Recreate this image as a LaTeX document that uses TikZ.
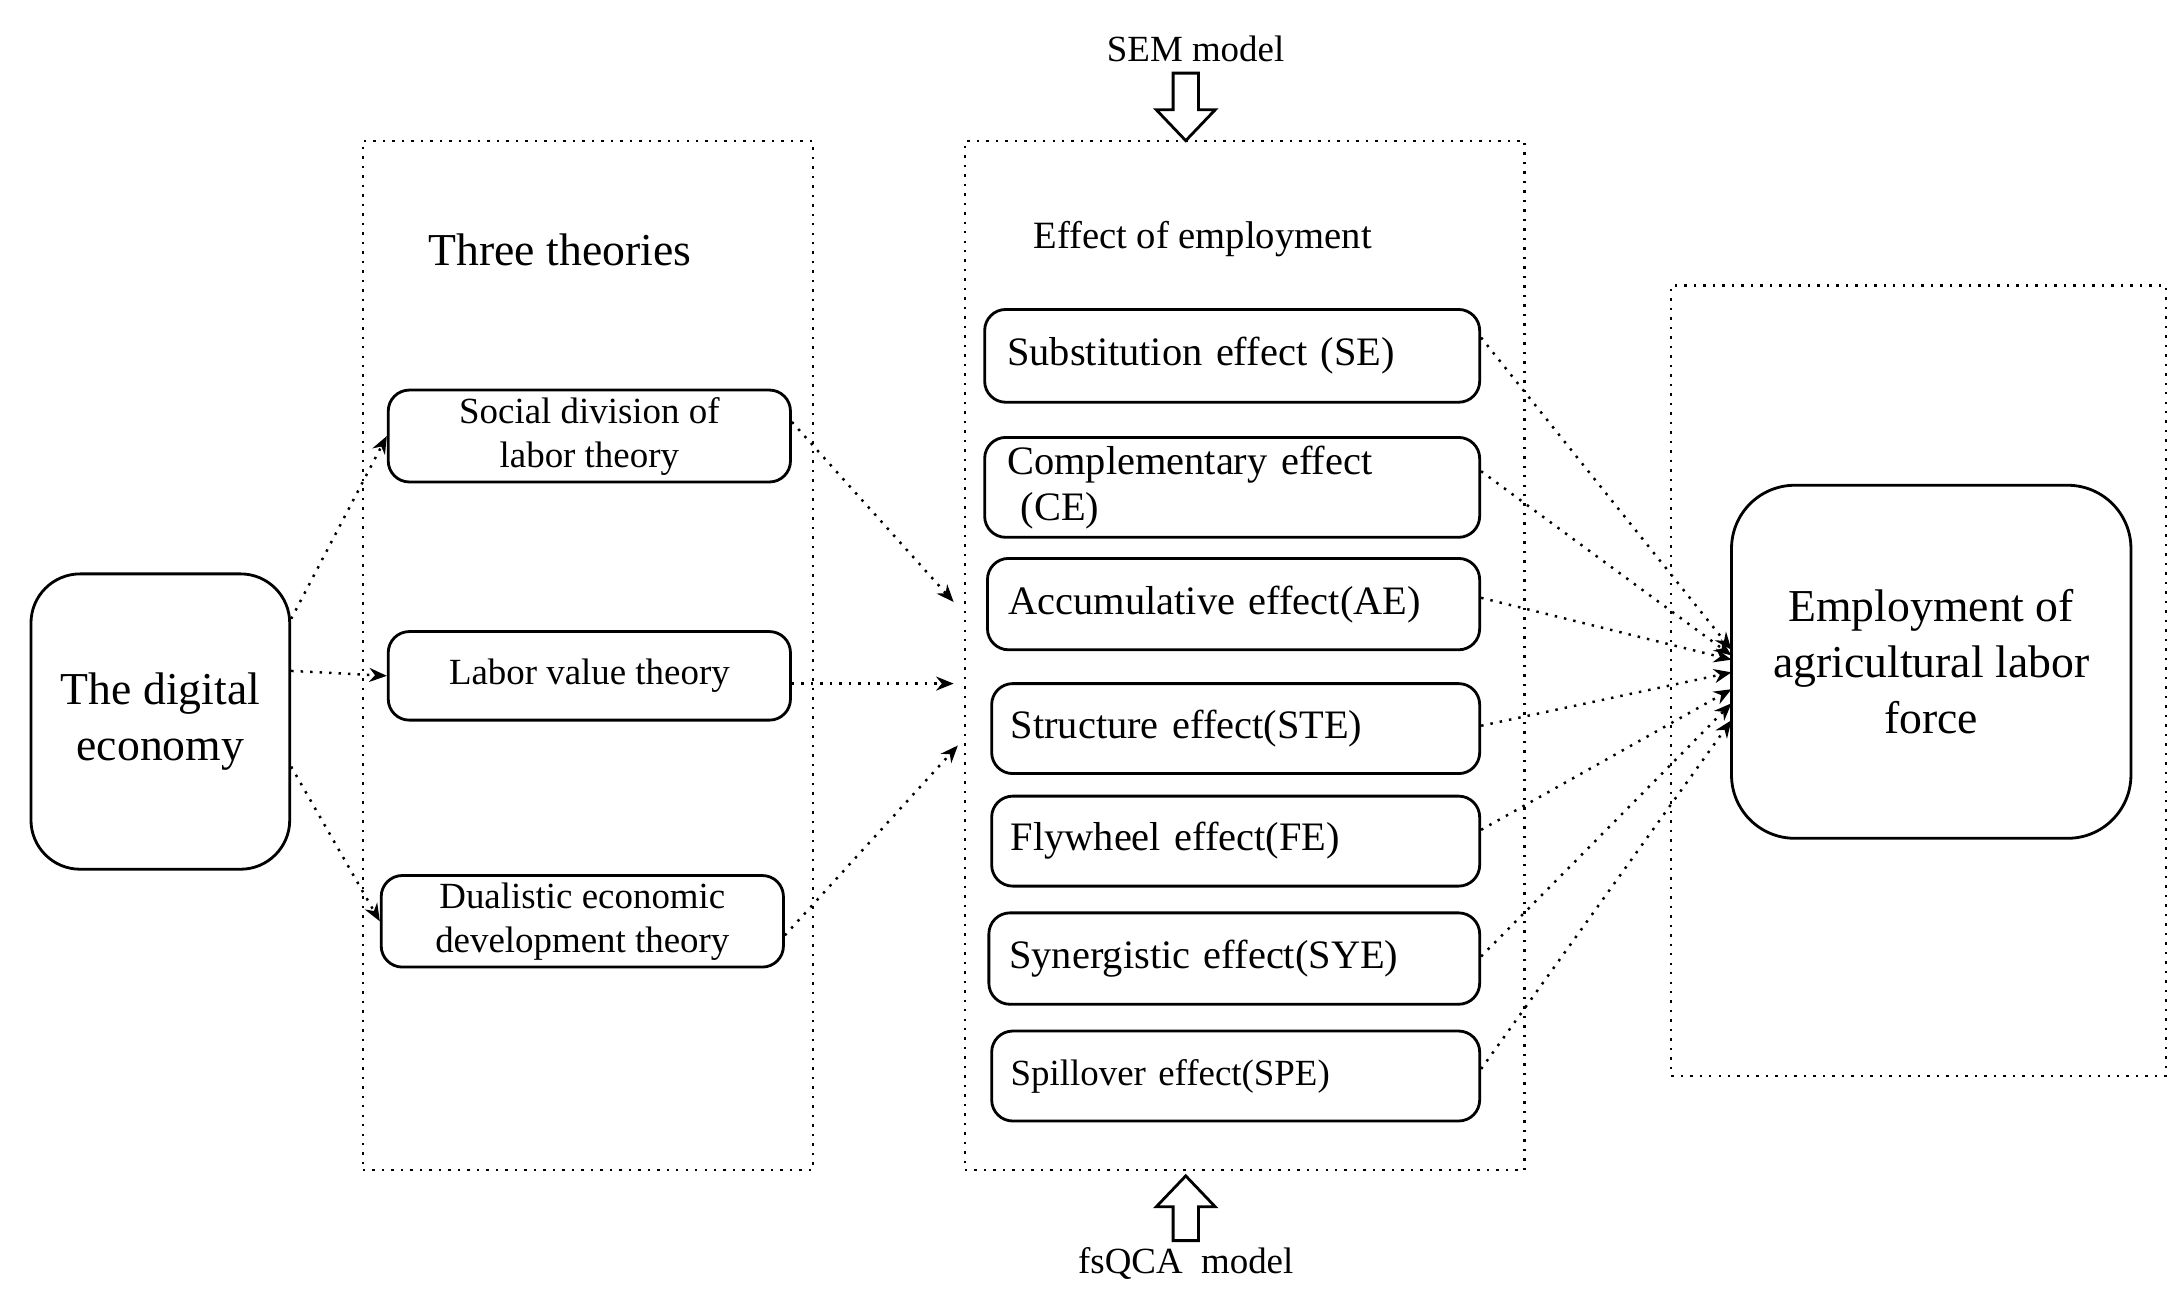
\documentclass[tikz,border=0pt]{standalone}
\usepackage{fontspec}
\setmainfont{Liberation Serif}
\usetikzlibrary{arrows.meta}
\begin{document}
\begin{tikzpicture}[x=0.014066cm,y=-0.014066cm,
 box/.style={draw,rounded corners=6pt,line width=0.8pt,align=center,inner sep=2pt},
 eff/.style={box,font=\fontsize{11.5}{13}\selectfont,align=left,text width=4.5cm},
 th/.style={box,font=\fontsize{10.5}{12.5}\selectfont,minimum width=4.023cm},
 frame/.style={draw,dotted,line width=0.7pt,minimum width=#1},
 con/.style={dotted,line width=0.7pt,-{Stealth[length=5pt,width=4pt]}},
 hollow/.style={draw,line width=0.8pt,fill=white}]
\useasboundingbox (0,0) rectangle (1552,921);
\node[frame=4.501cm,minimum height=10.296cm] (f1) at (418,466) {};
\node[frame=5.598cm,minimum height=10.296cm] (f2) at (885,466) {};
\node[frame=4.951cm,minimum height=7.905cm] (f3) at (1364,484) {};
\node[box,rounded corners=14pt,minimum width=2.588cm,minimum height=2.954cm,font=\fontsize{13}{16}\selectfont] (de) at (114,513) {The digital\\economy};
\node[font=\fontsize{13}{15}\selectfont] (tt) at (398,178) {Three theories};
\node[th,minimum height=0.9cm] (sd) at (419,310) {Social division of\\labor theory};
\node[th,minimum height=0.886cm] (lv) at (419,480.5) {Labor value theory};
\node[th,minimum height=0.9cm] (du) at (414,655) {Dualistic economic\\development theory};
\node[font=\fontsize{11}{13}\selectfont] (ee) at (855,170) {Effect of employment};
\node[eff,minimum width=4.951cm,minimum height=0.928cm] (se) at (876,253) {Substitution effect (SE)};
\node[eff,minimum width=4.951cm,minimum height=0.999cm] (ce) at (876,346.5) {Complementary effect\\\ (CE)};
\node[eff,minimum width=4.923cm,minimum height=0.914cm] (ae) at (877,429.5) {Accumulative effect(AE)};
\node[eff,minimum width=4.881cm,minimum height=0.9cm] (ste) at (878.5,518) {Structure effect(STE)};
\node[eff,minimum width=4.881cm,minimum height=0.9cm] (fe) at (878.5,598) {Flywheel effect(FE)};
\node[eff,minimum width=4.909cm,minimum height=0.914cm] (sye) at (877.5,681.5) {Synergistic effect(SYE)};
\node[eff,minimum width=4.881cm,minimum height=0.9cm,font=\fontsize{10.5}{12}\selectfont] (spe) at (878.5,765) {Spillover effect(SPE)};
\node[box,rounded corners=18pt,minimum width=3.995cm,minimum height=3.531cm,font=\fontsize{13}{16}\selectfont] (emp) at (1373,470.5) {Employment of\\agricultural labor\\force};
\node[font=\fontsize{10.5}{12}\selectfont] (sem) at (850,35) {SEM model};
\node[font=\fontsize{10.5}{12}\selectfont] (fq) at (843,898) {fsQCA\ \ model};
\path[hollow] (834,52)--(852,52)--(852,78)--(864,78)--(843,100)--(822,78)--(834,78)--cycle;
\path[hollow] (834,882)--(852,882)--(852,858)--(864,858)--(843,836)--(822,858)--(834,858)--cycle;
\coordinate (a1) at (678,428); \coordinate (a2) at (678,486); \coordinate (a3) at (681,530);
\draw[con] (de.east|-0,440) -- (sd.west);
\draw[con] (de.east|-0,477) -- (lv.west);
\draw[con] (de.east|-0,545) -- (du.west);
\draw[con] (sd.east|-0,300) -- (a1);
\draw[con] (lv.east|-0,486) -- (a2);
\draw[con] (du.east|-0,665) -- (a3);
\foreach \n/\sy/\ty in {se/240/462,ce/335/466,ae/425/469,ste/516/478,fe/590/490,sye/680/500,spe/760/512}{
 \coordinate (t\n) at (1231,\ty);
 \draw[con] (\n.east|-0,\sy) -- (t\n);}
\end{tikzpicture}
\end{document}
